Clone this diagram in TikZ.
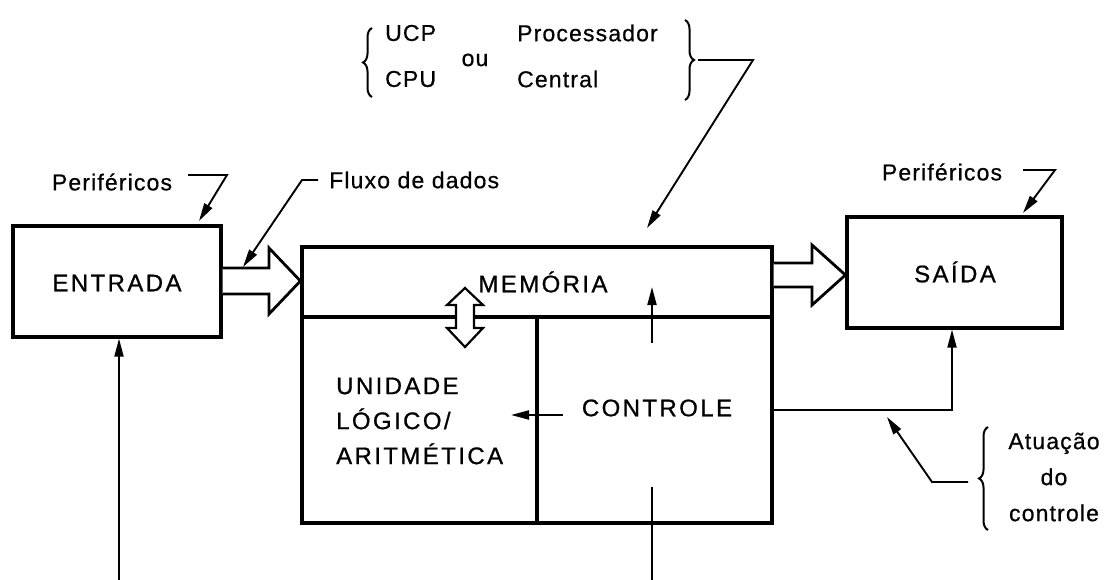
\documentclass[tikz,border=0pt]{standalone}
\usepackage{fontspec}
\setmainfont{Liberation Sans}
\newfontfamily\capf{Liberation Sans}[LetterSpace=10,FakeBold=0.8]
\newfontfamily\lowf{Liberation Sans}[LetterSpace=5,FakeBold=0.6]
\usetikzlibrary{arrows.meta,decorations.pathreplacing}
\begin{document}
\begin{tikzpicture}[x=1pt,y=-1pt,
  blk/.style={draw, line width=3.2pt, inner sep=0pt},
  captxt/.style={inner sep=0pt, font=\capf\fontsize{24}{35}\selectfont},
  lowtxt/.style={inner sep=0pt, font=\lowf\fontsize{23}{36}\selectfont},
  conn/.style={line width=1.9pt},
  tip/.style={-{Triangle[length=18pt,width=9pt]}},
  fat/.style={draw, fill=white, line width=2.8pt, line join=miter},
  brc/.style={line width=2pt, decorate, decoration={brace, amplitude=9pt}}]
\useasboundingbox (0,0) rectangle (1110,580);
% blocks
\node[blk, minimum width=208pt, minimum height=111pt] (ent) at (117,281.5) {};
\node[captxt] (entt) at (117,283) {ENTRADA};
\node[blk, minimum width=215pt, minimum height=111pt] (sai) at (954.5,272.5) {};
\node[captxt] (sait) at (955,272) {SAÍDA};
\node[blk, minimum width=470pt, minimum height=70pt] (mem) at (537,282) {};
\node[blk, minimum width=235pt, minimum height=206pt] (alu) at (419.5,420) {};
\node[blk, minimum width=235pt, minimum height=206pt] (ctl) at (654.5,420) {};
\node[captxt] (memt) at (543,282) {MEMÓRIA};
\node[captxt, anchor=west, align=left] (alut) at (336,421) {UNIDADE\\LÓGICO/\\ARITMÉTICA};
\node[captxt] (ctlt) at (657,408) {CONTROLE};
% fat arrows
\draw[fat] (ent.east |- 0,268) -- (269,268) -- (269,248) -- (mem.west |- 0,281) -- (269,314) -- (269,294) -- (ent.east |- 0,294);
\draw[fat] (mem.east |- 0,263) -- (812,263) -- (812,245) -- (sai.west |- 0,275) -- (812,305) -- (812,287) -- (mem.east |- 0,287);
% double arrow memory <-> ALU
\draw[fat, line width=2.2pt] (465,288) -- (483,305) -- (474,305) -- (474,328) -- (483,328) -- (465,347)
  -- (447,328) -- (456,328) -- (456,305) -- (447,305) -- cycle;
% control arrows
\coordinate (upa) at (652,343);
\coordinate (upb) at (652,287);
\draw[conn, tip] (upa) -- (upb);
\coordinate (lfa) at (563,415);
\coordinate (lfb) at (511,415);
\draw[conn, tip] (lfa) -- (lfb);
\coordinate (ctlout) at (ctl.east |- 0,410);
\coordinate (corner) at (952,410);
\draw[conn, tip] (ctlout) -- (corner) -- (corner |- sai.south);
\coordinate (inbot) at (119,580);
\draw[conn, tip] (inbot) -- (inbot |- ent.south);
\coordinate (ctlin) at (652,580);
\coordinate (ctlinend) at (652,487);
\draw[conn] (ctlin) -- (ctlinend);
% labels
\node[lowtxt] (perl) at (112,182) {Periféricos};
\node[lowtxt] (perr) at (942,172) {Periféricos};
\node[lowtxt, anchor=west] (flux) at (329,180) {Fluxo de dados};
\node[lowtxt, anchor=west] (ucp) at (385,33) {UCP};
\node[lowtxt, anchor=west] (cpu) at (385,79) {CPU};
\node[lowtxt] (ou) at (475,60) {ou};
\node[lowtxt, anchor=west] (proc) at (517,33) {Processador};
\node[lowtxt, anchor=west] (cent) at (517,79) {Central};
\node[lowtxt, align=center] (atu) at (1054,477) {Atuação\\do\\controle};
% braces
\draw[brc] (372,97) -- (372,28);
\draw[brc] (685,20) -- (685,100);
\draw[brc] (988,530) -- (988,427);
% leaders
\coordinate (l1a) at (188,175); \coordinate (l1b) at (227,175); \coordinate (l1c) at (199,221);
\draw[conn, tip] (l1a) -- (l1b) -- (l1c);
\coordinate (l2a) at (1023,170); \coordinate (l2b) at (1055,170); \coordinate (l2c) at (1023,213);
\draw[conn, tip] (l2a) -- (l2b) -- (l2c);
\coordinate (l3a) at (318,180); \coordinate (l3b) at (302,180); \coordinate (l3c) at (243,267);
\draw[conn, tip] (l3a) -- (l3b) -- (l3c);
\coordinate (l4a) at (698,60); \coordinate (l4b) at (753,60); \coordinate (l4c) at (647,228);
\draw[conn, tip] (l4a) -- (l4b) -- (l4c);
\coordinate (l5a) at (968,482); \coordinate (l5b) at (932,482); \coordinate (l5c) at (887,417);
\draw[conn, tip] (l5a) -- (l5b) -- (l5c);
\end{tikzpicture}
\end{document}
